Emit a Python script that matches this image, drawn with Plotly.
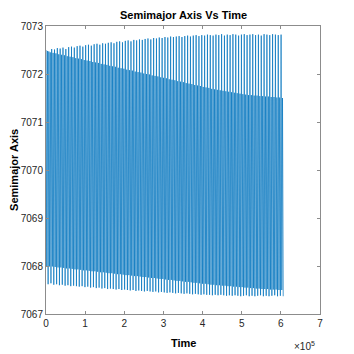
import numpy as np
import plotly.graph_objects as go

# Extremes per oscillation cycle (km)
outer_max = [7072.50, 7072.47, 7072.52, 7072.51, 7072.54, 7072.53, 7072.55, 7072.52, 7072.56, 7072.57, 7072.55, 7072.58,
             7072.59, 7072.57, 7072.60, 7072.61, 7072.59, 7072.62, 7072.63, 7072.61, 7072.64, 7072.63, 7072.65, 7072.66,
             7072.64, 7072.67, 7072.68, 7072.66, 7072.69, 7072.70, 7072.68, 7072.71, 7072.70, 7072.72, 7072.71, 7072.73,
             7072.74, 7072.72, 7072.75, 7072.74, 7072.76, 7072.75, 7072.77, 7072.76, 7072.78, 7072.77, 7072.78, 7072.79,
             7072.77, 7072.79, 7072.80, 7072.78, 7072.80, 7072.81, 7072.79, 7072.81, 7072.80, 7072.82, 7072.81, 7072.80,
             7072.82, 7072.81, 7072.83, 7072.80, 7072.82, 7072.81, 7072.83, 7072.82, 7072.80, 7072.82, 7072.83, 7072.81,
             7072.82, 7072.83, 7072.81, 7072.82, 7072.80, 7072.83, 7072.82, 7072.81, 7072.83, 7072.82, 7072.81, 7072.82]
inner_max = [7072.48, 7072.45, 7072.44, 7072.43, 7072.41, 7072.40, 7072.39, 7072.37, 7072.36, 7072.35, 7072.33, 7072.32,
             7072.31, 7072.29, 7072.28, 7072.27, 7072.25, 7072.24, 7072.23, 7072.21, 7072.20, 7072.19, 7072.17, 7072.16,
             7072.15, 7072.13, 7072.12, 7072.11, 7072.09, 7072.08, 7072.07, 7072.05, 7072.04, 7072.03, 7072.01, 7072.00,
             7071.99, 7071.97, 7071.96, 7071.95, 7071.93, 7071.92, 7071.91, 7071.89, 7071.88, 7071.87, 7071.85, 7071.84,
             7071.83, 7071.81, 7071.80, 7071.79, 7071.77, 7071.76, 7071.75, 7071.73, 7071.72, 7071.71, 7071.69, 7071.68,
             7071.67, 7071.66, 7071.65, 7071.64, 7071.63, 7071.62, 7071.61, 7071.60, 7071.59, 7071.58, 7071.57, 7071.56,
             7071.56, 7071.55, 7071.55, 7071.54, 7071.54, 7071.53, 7071.53, 7071.52, 7071.52, 7071.51, 7071.51, 7071.50]
inner_min = [7068.00, 7067.99, 7067.99, 7067.98, 7067.97, 7067.97, 7067.96, 7067.95, 7067.95, 7067.94, 7067.93, 7067.93,
             7067.92, 7067.91, 7067.91, 7067.90, 7067.89, 7067.89, 7067.88, 7067.87, 7067.87, 7067.86, 7067.85, 7067.85,
             7067.84, 7067.83, 7067.83, 7067.82, 7067.81, 7067.81, 7067.80, 7067.79, 7067.79, 7067.78, 7067.77, 7067.77,
             7067.76, 7067.75, 7067.75, 7067.74, 7067.73, 7067.73, 7067.72, 7067.71, 7067.71, 7067.70, 7067.69, 7067.69,
             7067.68, 7067.67, 7067.67, 7067.66, 7067.65, 7067.65, 7067.64, 7067.63, 7067.63, 7067.62, 7067.61, 7067.61,
             7067.60, 7067.60, 7067.59, 7067.59, 7067.58, 7067.58, 7067.57, 7067.57, 7067.56, 7067.56, 7067.55, 7067.55,
             7067.54, 7067.54, 7067.53, 7067.53, 7067.52, 7067.52, 7067.52, 7067.51, 7067.51, 7067.51, 7067.50, 7067.50]
outer_min = [7067.62, 7067.64, 7067.61, 7067.62, 7067.60, 7067.61, 7067.59, 7067.60, 7067.58, 7067.59, 7067.58, 7067.57,
             7067.58, 7067.56, 7067.57, 7067.55, 7067.56, 7067.54, 7067.55, 7067.53, 7067.54, 7067.52, 7067.53, 7067.52,
             7067.51, 7067.52, 7067.50, 7067.51, 7067.50, 7067.49, 7067.50, 7067.48, 7067.49, 7067.48, 7067.47, 7067.48,
             7067.47, 7067.46, 7067.47, 7067.45, 7067.46, 7067.45, 7067.44, 7067.45, 7067.44, 7067.43, 7067.44, 7067.43,
             7067.42, 7067.43, 7067.42, 7067.41, 7067.42, 7067.41, 7067.40, 7067.41, 7067.40, 7067.40, 7067.39, 7067.40,
             7067.39, 7067.40, 7067.39, 7067.38, 7067.39, 7067.38, 7067.39, 7067.38, 7067.37, 7067.38, 7067.39, 7067.37,
             7067.38, 7067.37, 7067.38, 7067.39, 7067.37, 7067.38, 7067.37, 7067.38, 7067.39, 7067.37, 7067.38, 7067.37]

t_end = 606000.0
x_tick_vals = [0, 1e5, 2e5, 3e5, 4e5, 5e5, 6e5, 7e5]
x_tick_text = ["0", "1", "2", "3", "4", "5", "6", "7"]
y_tick_vals = [7067, 7068, 7069, 7070, 7071, 7072, 7073]

# Sequence of extremes: outer max, inner min, inner max, outer min per cycle
values = []
for H, l, h, L in zip(outer_max, inner_min, inner_max, outer_min):
    values.extend([H, l, h, L])
time = np.linspace(0, t_end, len(values))

FONT = "Liberation Sans, Arial, sans-serif"

fig = go.Figure()
fig.add_trace(go.Scatter(x=time, y=values, mode="lines",
                         line=dict(color="#0072BD", width=0.7), showlegend=False))

axis_common = dict(showline=True, linecolor="#8c8c8c", linewidth=1, mirror="ticks",
                   ticks="inside", ticklen=3, tickcolor="#8c8c8c", showgrid=False, zeroline=False,
                   automargin=False,
                   tickfont=dict(family=FONT, size=10, color="#262626"))

# The page body has an 8px margin, so the figure is sized 346x346 to fill the 354 window.
fig.update_layout(
    width=346, height=346,
    margin=dict(l=38, r=34, t=18, b=40, autoexpand=False),
    paper_bgcolor="white", plot_bgcolor="white",
    xaxis=dict(range=[0, 7e5], tickvals=x_tick_vals, ticktext=x_tick_text, **axis_common),
    yaxis=dict(range=[7067, 7073], tickvals=y_tick_vals, ticktext=[str(v) for v in y_tick_vals],
               **axis_common),
    annotations=[
        dict(text="<b>Semimajor Axis Vs Time</b>", xref="paper", yref="paper", x=0.5, y=1.038,
             xanchor="center", yanchor="middle", showarrow=False,
             font=dict(family=FONT, size=11, color="black")),
        dict(text="<b>Time</b>", xref="paper", yref="paper", x=0.5, y=-0.10,
             xanchor="center", yanchor="middle", showarrow=False,
             font=dict(family=FONT, size=11, color="black")),
        dict(text="<b>Semimajor Axis</b>", xref="paper", yref="paper", x=-0.117, y=0.5,
             xanchor="center", yanchor="middle", textangle=-90, showarrow=False,
             font=dict(family=FONT, size=11, color="black")),
        dict(text="×10<sup>5</sup>", xref="paper", yref="paper", x=0.99, y=-0.082,
             xanchor="right", yanchor="top", showarrow=False,
             font=dict(family=FONT, size=10, color="#262626")),
    ],
)

fig.write_html("out.html")
